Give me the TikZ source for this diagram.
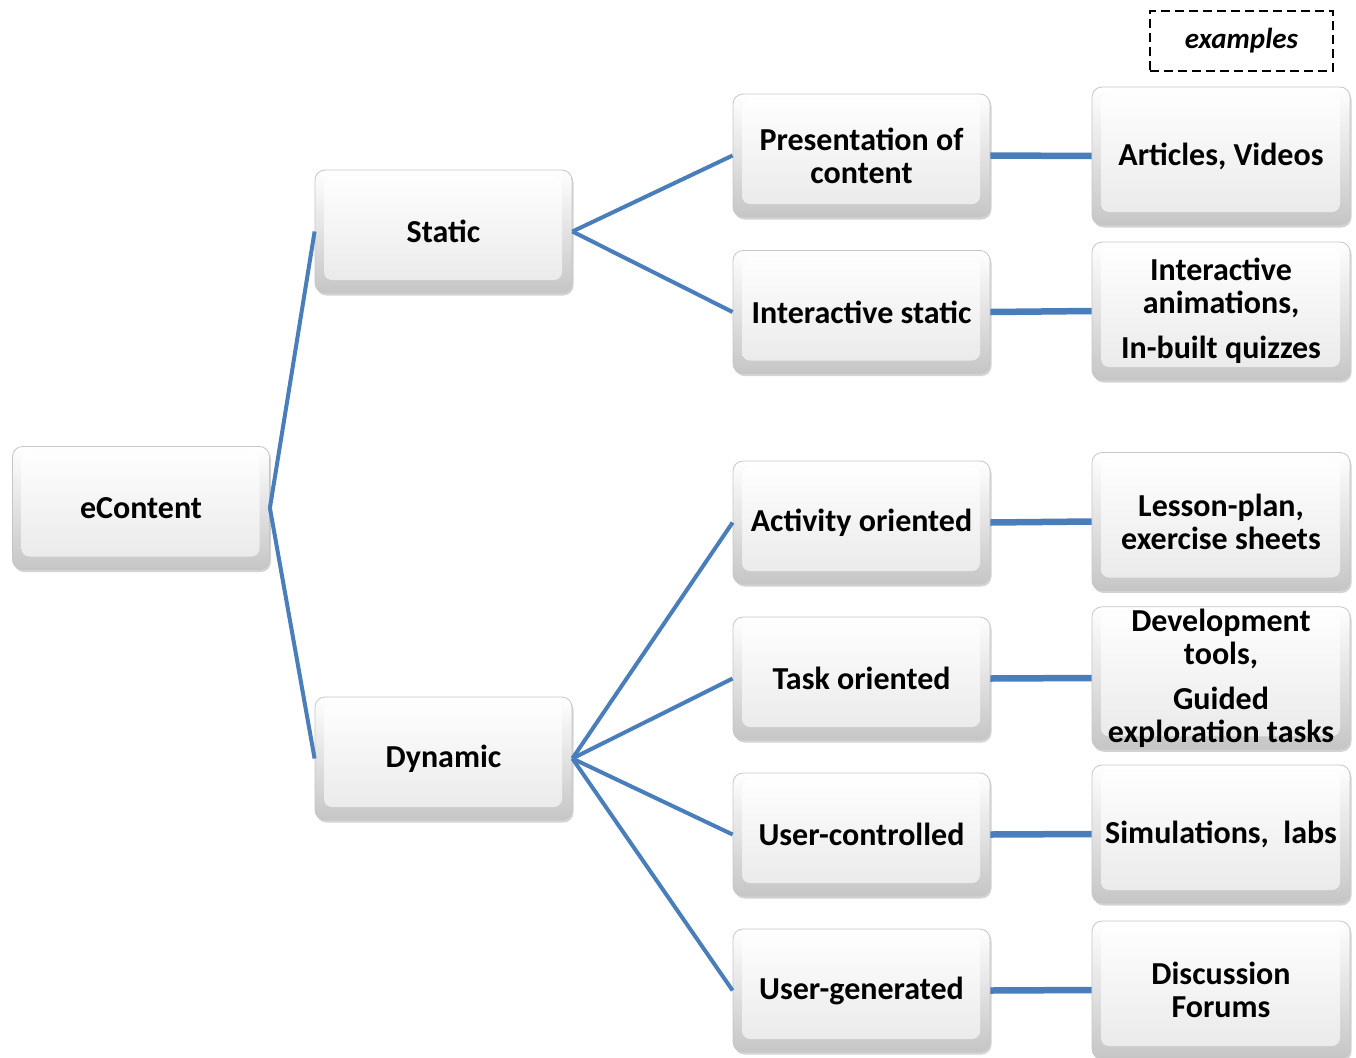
\documentclass[tikz,border=0pt]{standalone}
\usepackage{fontspec}
\setmainfont{Carlito}
\usetikzlibrary{shadows}
\definecolor{linkblue}{RGB}{74,126,187}
\tikzset{
  box/.style={rectangle, rounded corners=10pt, draw=gray!45, line width=0.8pt,
    top color=white, bottom color=gray!45, inner sep=2pt,
    align=center, font=\fontsize{32}{33}\selectfont\bfseries,
    drop shadow={shadow xshift=1.5pt, shadow yshift=-2.5pt, opacity=0.35, fill=gray},
    path picture={\shade[top color=white, bottom color=gray!18, rounded corners=8pt]
      ([shift={(9pt,-6pt)}]path picture bounding box.north west) rectangle
      ([shift={(-10pt,13pt)}]path picture bounding box.south east);}},
  smallbox/.style={box, minimum width=257, minimum height=123},
  bigbox/.style={box, minimum width=258, minimum height=138},
  link/.style={draw=linkblue, line width=4pt},
  hlink/.style={draw=linkblue, line width=6.5pt},
  note/.style={draw=black, line width=2pt, dash pattern=on 9pt off 5pt,
    minimum width=183, minimum height=60, inner sep=0pt,
    font=\fontsize{29}{33}\selectfont\bfseries\itshape}
}
\begin{document}
\begin{tikzpicture}[x=1pt, y=-1pt]
\useasboundingbox (0,0) rectangle (1356,1057);
% nodes
\node[smallbox] (econtent) at (141,508) {eContent};
\node[smallbox] (static) at (443.5,231.5) {Static};
\node[smallbox] (dynamic) at (443.5,758.5) {Dynamic};
\node[smallbox] (pres) at (861.5,155.5) {Presentation of\\content};
\node[smallbox] (istatic) at (861.5,312) {Interactive static};
\node[smallbox] (activity) at (861.5,522.5) {Activity oriented};
\node[smallbox] (task) at (861.5,678.5) {Task oriented};
\node[smallbox] (userc) at (861.5,834.5) {User-controlled};
\node[smallbox] (userg) at (861.5,990.5) {User-generated};
\node[bigbox] (articles) at (1221,156) {Articles, Videos};
\node[bigbox] (anim) at (1221,311) {Interactive\\animations,\\[12pt]In-built quizzes};
\node[bigbox] (lesson) at (1221,521.5) {Lesson-plan,\\exercise sheets};
\node[bigbox] (devtools) at (1221,678) {Development\\tools,\\[12pt]Guided\\exploration tasks};
\node[bigbox] (sims) at (1221,834) {Simulations,~ labs};
\node[bigbox] (forums) at (1221,990) {Discussion\\Forums};
\node[note] (examples) at (1241.5,41) {examples};
% connectors
\draw[link] (econtent.east) -- (static.west);
\draw[link] (econtent.east) -- (dynamic.west);
\draw[link] (static.east) -- (pres.west);
\draw[link] (static.east) -- (istatic.west);
\draw[link] (dynamic.east) -- (activity.west);
\draw[link] (dynamic.east) -- (task.west);
\draw[link] (dynamic.east) -- (userc.west);
\draw[link] (dynamic.east) -- (userg.west);
\draw[hlink] (pres.east) -- (articles.west);
\draw[hlink] (istatic.east) -- (anim.west);
\draw[hlink] (activity.east) -- (lesson.west);
\draw[hlink] (task.east) -- (devtools.west);
\draw[hlink] (userc.east) -- (sims.west);
\draw[hlink] (userg.east) -- (forums.west);
\end{tikzpicture}
\end{document}
